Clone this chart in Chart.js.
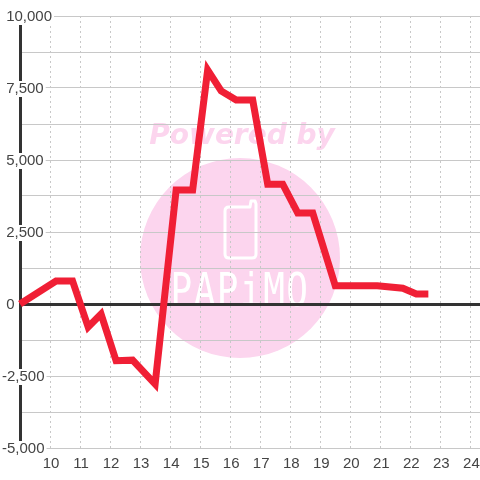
<!DOCTYPE html>
<html>
<head>
<meta charset="utf-8">
<title>chart</title>
<script src="https://cdn.jsdelivr.net/npm/chart.js@4"></script>
<style>
html, body { margin: 0; padding: 0; background: #fff; }
canvas { display: block; }
</style>
</head>
<body>
<canvas id="profitChart" width="480" height="480"></canvas>
<script>
// values
const hours = [9, 10.2, 10.75, 11.27, 11.7, 12.2, 12.75, 13.5, 14.2, 14.75, 15.25, 15.7, 16.2, 16.75, 17.25, 17.75, 18.25, 18.75, 19.5, 20.9, 21.75, 22.2, 22.6];
const profit = [0, 800, 800, -800, -350, -1970, -1950, -2780, 3960, 3960, 8125, 7400, 7080, 7080, 4160, 4160, 3160, 3160, 630, 630, 550, 350, 350];
const xTicks = [9, 10, 11, 12, 13, 14, 15, 16, 17, 18, 19, 20, 21, 22, 23, 24];
const yTicks = [-5000, -3750, -2500, -1250, 0, 1250, 2500, 3750, 5000, 6250, 7500, 8750, 10000];

const AXIS_COLOR = '#333';
const TEXT_COLOR = '#444';
const GRID_COLOR = '#c8c8c8';
const WATERMARK = '#fcd5ee';

// логотип под сеткой
const watermark = {
    id: 'watermark',
    beforeDraw(chart) {
        const ctx = chart.ctx;
        ctx.save();
        ctx.fillStyle = WATERMARK;
        ctx.beginPath();
        ctx.arc(240, 258, 100, 0, Math.PI * 2);
        ctx.fill();

        ctx.textAlign = 'center';
        ctx.textBaseline = 'alphabetic';
        ctx.font = 'italic bold 28px "DejaVu Sans"';
        ctx.fillText('Powered by', 242, 144);

        ctx.strokeStyle = '#fff';
        ctx.lineWidth = 3;
        ctx.lineJoin = 'round';
        ctx.beginPath();
        ctx.moveTo(229, 207);
        ctx.lineTo(250, 207);
        ctx.lineTo(251, 201);
        ctx.lineTo(255, 201);
        ctx.lineTo(256, 204);
        ctx.lineTo(256, 254);
        ctx.quadraticCurveTo(256, 258, 252, 258);
        ctx.lineTo(229, 258);
        ctx.quadraticCurveTo(225, 258, 225, 254);
        ctx.lineTo(225, 211);
        ctx.quadraticCurveTo(225, 207, 229, 207);
        ctx.stroke();

        // буквы логотипа вытянуты по вертикали
        ctx.fillStyle = '#fff';
        ctx.font = '36px "DejaVu Sans Mono"';
        ctx.letterSpacing = '1.5px';
        ctx.translate(240, 306);
        ctx.scale(1, 1.27);
        ctx.fillText('PAPiMO', 0, 0);
        ctx.restore();
    }
};

new Chart(document.getElementById('profitChart').getContext('2d'), {
    type: 'line',
    data: {
        datasets: [{
            data: hours.map((h, i) => ({ x: h, y: profit[i] })),
            borderColor: '#f01f35',
            borderWidth: 7,
            borderCapStyle: 'butt',
            borderJoinStyle: 'miter',
            tension: 0,
            pointRadius: 0,
            clip: false
        }]
    },
    options: {
        responsive: false,
        animation: false,
        layout: { padding: { top: 16 } },
        plugins: { legend: { display: false }, tooltip: { enabled: false } },
        scales: {
            x: {
                type: 'linear',
                min: 9,
                max: 24.32,
                afterBuildTicks: (s) => { s.ticks = xTicks.map(v => ({ value: v })); },
                afterFit: (s) => {
                    s.height = 32;
                    s.paddingLeft = 0;
                    s.paddingRight = 0;
                },
                border: { display: false, dash: [2, 3] },
                grid: {
                    color: GRID_COLOR,
                    lineWidth: 1,
                    drawTicks: false
                },
                ticks: {
                    autoSkip: false,
                    maxRotation: 0,
                    padding: 7,
                    labelOffset: 1,
                    color: TEXT_COLOR,
                    font: { family: '"Liberation Sans"', size: 15 },
                    callback: (v) => (v === 9 ? '' : String(v))
                }
            },
            y: {
                min: -5000,
                max: 10000,
                afterBuildTicks: (s) => { s.ticks = yTicks.map(v => ({ value: v })); },
                afterFit: (s) => { s.width = 20; },
                border: { display: true, color: AXIS_COLOR, width: 3 },
                grid: {
                    drawTicks: false,
                    color: (c) => (c.tick.value === 0 ? AXIS_COLOR : GRID_COLOR),
                    lineWidth: (c) => (c.tick.value === 0 ? 3 : 1)
                },
                ticks: {
                    autoSkip: false,
                    // mirror снимает обрезку подписей по ширине оси
                    mirror: true,
                    crossAlign: 'near',
                    padding: -18,
                    labelOffset: 1,
                    color: TEXT_COLOR,
                    font: { family: '"Liberation Sans"', size: 15 },
                    showLabelBackdrop: true,
                    backdropColor: '#fff',
                    backdropPadding: { top: -1, bottom: -1, left: 0, right: 2 },
                    callback: (v) => {
                        if (v % 2500 !== 0) return '';
                        const s = v.toLocaleString('en-US');
                        return v < 0 ? s : ' ' + s;
                    }
                }
            }
        }
    },
    plugins: [watermark]
});
</script>
</body>
</html>
